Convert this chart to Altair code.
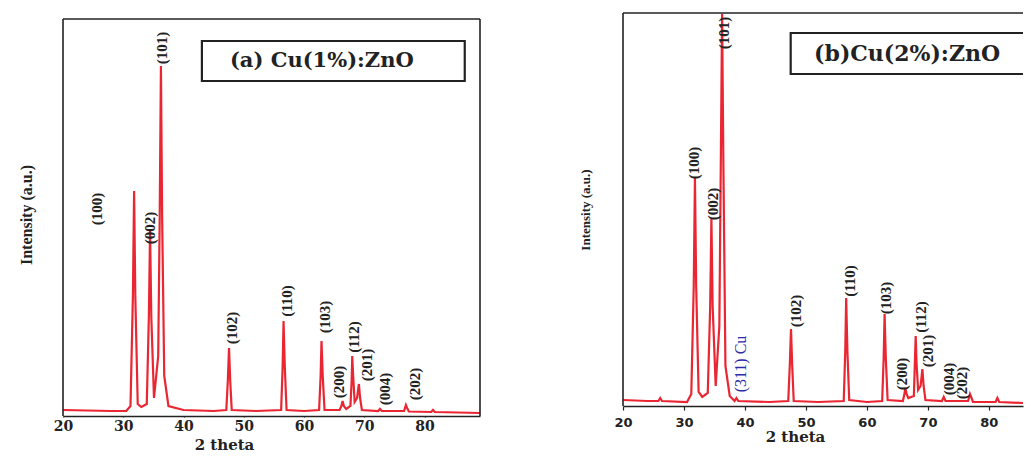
import altair as alt
import pandas as pd

# ---------------- data: panel (a) Cu(1%):ZnO ----------------
two_theta_a = [20.0, 24.0, 28.0, 30.5, 31.2, 31.6, 31.8, 32.0, 32.4, 33.0, 33.9, 34.25, 34.45, 34.65,
               35.1, 35.8, 36.05, 36.25, 36.45, 36.8, 37.5, 40.0, 45.0, 47.1, 47.35, 47.55, 47.75,
               48.0, 52.0, 56.2, 56.45, 56.6, 56.8, 57.1, 60.0, 62.5, 62.75, 62.9, 63.1, 63.4, 65.9,
               66.2, 66.4, 66.6, 67.0, 67.7, 67.9, 68.0, 68.15, 68.4, 68.8, 69.1, 69.3, 69.6, 72.3,
               72.6, 72.9, 76.6, 76.9, 77.1, 77.4, 81.1, 81.4, 81.7, 89.2]
intensity_a = [6, 5.5, 5, 5, 10, 120, 225, 120, 12, 9, 12, 100, 185, 100,
               18, 60, 200, 350, 200, 40, 10, 6, 5, 6, 35, 68, 35,
               6, 5, 6, 50, 95, 50, 6, 5, 6, 40, 75, 40, 6, 6,
               10, 15, 10, 7, 10, 35, 60, 40, 14, 18, 32, 18, 6, 5,
               7, 5, 5, 11, 8, 4.5, 4, 6, 4, 3]

# ---------------- data: panel (b) Cu(2%):ZnO ----------------
two_theta_b = [20.0, 24.0, 25.8, 26.1, 26.4, 30.5, 31.2, 31.6, 31.8, 32.0, 32.4, 33.0, 33.9, 34.3,
               34.5, 34.7, 35.2, 35.8, 36.05, 36.25, 36.45, 36.8, 37.5, 38.3, 38.6, 38.9, 44.0,
               47.1, 47.35, 47.55, 47.75, 48.0, 52.0, 56.2, 56.45, 56.6, 56.8, 57.1, 60.0, 62.5,
               62.75, 62.9, 63.1, 63.4, 65.9, 66.15, 66.3, 66.5, 66.8, 67.7, 67.85, 68.0, 68.15,
               68.4, 68.8, 69.1, 69.3, 69.6, 72.3, 72.6, 72.9, 76.6, 76.9, 77.1, 77.4, 81.1, 81.4,
               81.7, 85.6]
intensity_b = [6, 5, 5, 8, 5, 4, 12, 120, 228, 120, 14, 9, 13, 100,
               187, 100, 20, 80, 250, 392, 250, 40, 10, 5, 8, 5, 4,
               5, 40, 77, 40, 5, 4, 5, 55, 108, 55, 6, 4, 5,
               48, 92, 48, 6, 5, 12, 18, 12, 8, 10, 40, 70, 42,
               16, 20, 37, 20, 6, 5, 9, 5, 5, 12, 9, 4, 4, 8,
               4, 3]

# ---------------- peak labels ----------------
peaks_a = ["(100)", "(002)", "(101)", "(102)", "(110)", "(103)", "(200)", "(112)", "(201)", "(004)", "(202)"]
peak_a_x = [25.6, 34.4, 36.4, 48.0, 57.1, 63.4, 65.8, 68.3, 70.4, 73.4, 78.4]
peak_a_y = [207, 188, 368, 88, 115, 99, 34, 79, 51, 27, 32]

peaks_b = ["(100)", "(002)", "(101)", "(102)", "(110)", "(103)", "(200)", "(112)", "(201)", "(004)", "(202)"]
peak_b_x = [31.6, 34.7, 36.5, 48.3, 57.3, 63.2, 65.8, 68.8, 70.1, 73.4, 75.6]
peak_b_y = [243, 202, 373, 95, 125, 108, 32, 89, 55, 27, 23]

cu_text = ["(311) Cu"]
cu_x = [39.3]
cu_y = [42]

x_ticks = [20, 25, 30, 35, 40, 45, 50, 55, 60, 65, 70, 75, 80, 85]

RED = "#ea2632"
INK = "#222222"
SERIF = "Liberation Serif"
WIDE = "DejaVu Serif"
one = pd.DataFrame({"k": [0]})


def panel(tt, inten, labels, lx, ly, xmax, ymax, width, height, box, box_text, box_xy,
          box_font, y_title_size, y_title_pad, tick_font, tick_size, tick_len, tick_pad,
          title_x, title_y, title_size, frame_top, full_frame, extra=None):
    df = pd.DataFrame({"tt": tt, "inten": inten})
    xscale = alt.Scale(domain=[20, xmax], nice=False, zero=False)
    yscale = alt.Scale(domain=[0, ymax], nice=False, zero=False)
    xaxis = alt.Axis(values=x_ticks, labelExpr="datum.value % 10 == 0 ? datum.label : ''",
                     title="2 theta", grid=False, tickSize=tick_len, tickColor=INK,
                     domainColor=INK, domainWidth=1.6, tickWidth=1.2,
                     labelFont=tick_font, labelFontSize=tick_size, labelFontWeight="bold",
                     labelColor=INK, labelPadding=tick_pad, labelFlush=False,
                     titleFont=WIDE, titleFontSize=title_size, titleFontWeight="bold",
                     titleColor=INK, titleX=title_x, titleY=title_y,
                     titleBaseline="alphabetic", titleAlign="center")
    yaxis = alt.Axis(title="Intensity (a.u.)", labels=False, ticks=False, grid=False,
                     domain=False, titleFont=SERIF, titleFontSize=y_title_size,
                     titleFontWeight="bold", titleColor=INK, titlePadding=y_title_pad)
    line = alt.Chart(df).mark_line(color=RED, strokeWidth=2.2, clip=True).encode(
        x=alt.X("tt:Q", scale=xscale, axis=xaxis),
        y=alt.Y("inten:Q", scale=yscale, axis=yaxis),
    )
    ldf = pd.DataFrame({"label": labels, "lx": lx, "ly": ly})
    text = alt.Chart(ldf).mark_text(angle=270, font=SERIF, fontSize=15, fontWeight="bold",
                                    color=INK, align="center", baseline="middle").encode(
        x=alt.X("lx:Q", scale=xscale), y=alt.Y("ly:Q", scale=yscale), text="label:N")
    rect = alt.Chart(one).mark_rect(fillOpacity=0, stroke=INK, strokeWidth=2.2, clip=True).encode(
        x=alt.datum(box[0]), x2=alt.datum(box[1]), y=alt.datum(box[2]), y2=alt.datum(box[3]))
    btext = alt.Chart(one).mark_text(font=WIDE, fontSize=box_font, fontWeight="bold", color=INK,
                                     align="center", baseline="middle").encode(
        x=alt.datum(box_xy[0]), y=alt.datum(box_xy[1]), text=alt.value(box_text))
    # plot frame (top, left and optionally right edges)
    top = alt.Chart(one).mark_rule(color=INK, strokeWidth=1.6).encode(
        x=alt.value(0), x2=alt.value(width), y=alt.value(frame_top))
    lft = alt.Chart(one).mark_rule(color=INK, strokeWidth=1.6).encode(
        x=alt.value(0), y=alt.value(frame_top), y2=alt.value(height))
    layers = [line, text, rect, btext, top, lft]
    if full_frame:
        layers.append(alt.Chart(one).mark_rule(color=INK, strokeWidth=1.6).encode(
            x=alt.value(width), y=alt.value(frame_top), y2=alt.value(height)))
    if extra is not None:
        layers.append(extra(xscale, yscale))
    return alt.layer(*layers).properties(width=width, height=height,
                                         view=alt.ViewBackground(strokeOpacity=0))


def cu_layer(xscale, yscale):
    cdf = pd.DataFrame({"label": cu_text, "lx": cu_x, "ly": cu_y})
    return alt.Chart(cdf).mark_text(angle=270, font=SERIF, fontSize=16, color="#2b2ba8",
                                    align="center", baseline="middle").encode(
        x=alt.X("lx:Q", scale=xscale), y=alt.Y("ly:Q", scale=yscale), text="label:N")


left = panel(two_theta_a, intensity_a, peaks_a, peak_a_x, peak_a_y, 89.2, 403, 417, 403,
             [43.05, 86.67, 335, 375], "(a) Cu(1%):ZnO", [62.95, 355], 21, 16, 29,
             WIDE, 14, 1, 2, 161, 33, 15, 6, True)
right = panel(two_theta_b, intensity_b, peaks_b, peak_b_x, peak_b_y, 85.6, 393, 400, 393,
              [47.5, 87.0, 332, 373], "(b)Cu(2%):ZnO", [66.6, 352], 22, 13, 31,
              "DejaVu Sans", 13, 4, 6, 172, 35, 15, 0, False, extra=cu_layer)

chart = alt.hconcat(left, right, spacing=98).properties(
    padding={"left": 10, "top": 4, "right": 0, "bottom": 0}
).configure(background="white")

chart.save("out.html", embed_options={"renderer": "svg", "actions": False})
